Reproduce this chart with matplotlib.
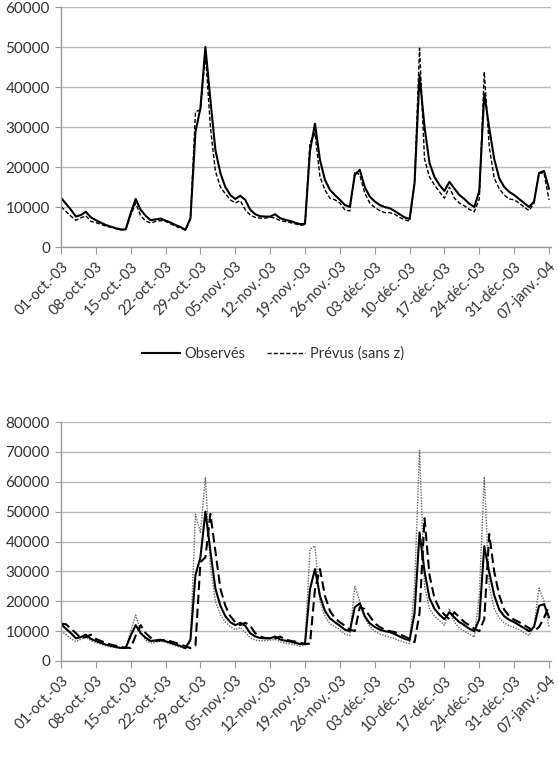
import numpy as np
import pandas as pd
import matplotlib
matplotlib.use("Agg")
import matplotlib.pyplot as plt

plt.rcParams['font.family'] = ['Lato', 'DejaVu Sans']

# daily series, 01-oct-03 .. 07-janv-04
dates = pd.date_range("2003-10-01", "2004-01-07", freq="D")

observes = [
    12300, 10800, 9300, 7600, 8000, 8800, 7400, 6700, 6100, 5500,
    5100, 4700, 4400, 4400, 8500, 12000, 9300, 7800, 6700, 6900,
    7100, 6600, 6100, 5500, 5000, 4300, 7200, 28800, 34700, 50000,
    36800, 24300, 18500, 15000, 13000, 12000, 12800, 11800, 9300, 8200,
    7700, 7600, 7600, 8200, 7200, 6800, 6500, 6100, 5700, 5800,
    24000, 30800, 21800, 16800, 14300, 13000, 11800, 10500, 10000, 18000,
    19300, 15000, 12600, 11400, 10500, 10000, 9700, 9000, 8200, 7400,
    7000, 16000, 43000, 30000, 21000, 17500, 15500, 14000, 16300, 14600,
    13000, 12000, 10800, 10000, 14000, 38400, 29700, 22000, 17200, 15000,
    13800, 13000, 12000, 11000, 10000, 11400, 18500, 19000, 14600,
]

prevus_sans_z = [
    10100, 8900, 7700, 6700, 7300, 7800, 6400, 6100, 5700, 5200,
    4900, 4600, 4300, 4300, 8000, 11000, 7800, 6500, 6000, 6400,
    6600, 6400, 5800, 5200, 4700, 4200, 7000, 33800, 34300, 48500,
    30000, 19000, 15000, 13300, 11800, 11000, 11600, 9300, 8000, 7400,
    7200, 7200, 7500, 7200, 6600, 6400, 6100, 5800, 5400, 5600,
    26000, 28500, 17600, 14300, 12200, 11800, 11000, 9300, 9000, 18900,
    18000, 13500, 11000, 9900, 9100, 8600, 8600, 8200, 7400, 6800,
    6500, 16000, 49700, 22000, 17500, 15500, 13800, 12200, 15000, 12200,
    11000, 10300, 9400, 8800, 12000, 43800, 25000, 17200, 14600, 13000,
    12000, 11800, 11000, 10000, 9100, 11000, 18500, 18500, 11800,
]

# bottom panel: long-dashed forecast
prevus_tirets = [
    12500, 12300, 10800, 9300, 7600, 8000, 8800, 7400, 6700, 6100,
    5500, 5100, 4700, 4400, 4400, 8500, 12000, 9300, 7800, 6700,
    6900, 7100, 6600, 6100, 5500, 5000, 4300, 5200, 33100, 34700,
    49200, 36800, 24300, 18500, 15000, 13000, 12000, 12800, 11800, 9300,
    8200, 7700, 7600, 7600, 8200, 7200, 6800, 6500, 6100, 5700,
    5800, 24000, 30800, 21800, 16800, 14300, 13000, 11800, 10500, 10000,
    18000, 17400, 15000, 12600, 11400, 10500, 10000, 9700, 9000, 8200,
    7400, 6300, 16000, 47800, 28700, 21000, 17500, 15500, 14000, 16300,
    14600, 13000, 12000, 10800, 10000, 14000, 42500, 29900, 22000, 17200,
    15000, 13800, 13000, 12000, 11000, 10000, 11400, 14500, 18200,
]

# bottom panel: dotted forecast
prevus_points = [
    10000, 8800, 7500, 6500, 7300, 8000, 6800, 6200, 5600, 5100,
    4700, 4400, 4200, 4300, 10000, 15400, 10000, 7000, 6000, 6300,
    6600, 6300, 5700, 5100, 4600, 4100, 6500, 49200, 43000, 61500,
    32000, 20000, 15500, 13000, 11500, 10500, 11200, 9500, 7800, 7000,
    6800, 6800, 7000, 7200, 6400, 6000, 5700, 5400, 5000, 5300,
    37500, 38500, 20000, 15000, 12500, 11500, 10500, 9000, 8500, 25000,
    20000, 14500, 11500, 10000, 9000, 8500, 8000, 7500, 6800, 6200,
    5800, 25000, 70500, 25000, 17500, 15000, 13500, 12000, 17500, 13000,
    11000, 10000, 9000, 8000, 22000, 61600, 25000, 17500, 14500, 12800,
    11800, 11200, 10500, 9500, 8500, 12000, 24400, 20000, 11500,
]

tick_labels = ["01-oct.-03", "08-oct.-03", "15-oct.-03", "22-oct.-03", "29-oct.-03",
               "05-nov.-03", "12-nov.-03", "19-nov.-03", "26-nov.-03", "03-déc.-03",
               "10-déc.-03", "17-déc.-03", "24-déc.-03", "31-déc.-03", "07-janv.-04"]

x = np.asarray((dates - dates[0]).days)
ticks = x[::7]

TXT = '#333333'
GRID = '#b8b8b8'
AXC = '#9a9a9a'

W, H = 558, 761
fig = plt.figure(figsize=(W / 100, H / 100), dpi=100)
ax1 = fig.add_axes([61 / W, 1 - 247 / H, 490 / W, 240 / H])
ax2 = fig.add_axes([61 / W, 1 - 661 / H, 490 / W, 239 / H])


def style(ax, ymax):
    ax.set_xlim(0, 98.4)
    ax.set_ylim(0, ymax)
    ax.set_yticks(np.arange(0, ymax + 1, 10000))
    ax.set_xticks(ticks)
    ax.set_xticklabels(tick_labels, rotation=45, ha='right', va='top',
                       rotation_mode='anchor', fontsize=10.5, color=TXT)
    ax.tick_params(axis='y', labelsize=11, labelcolor=TXT, color=AXC, length=4, pad=4)
    ax.tick_params(axis='x', color=AXC, length=5, pad=4)
    ax.grid(axis='y', color=GRID, lw=1)
    ax.set_axisbelow(True)
    for s in ['top', 'right']:
        ax.spines[s].set_visible(False)
    for s in ['left', 'bottom']:
        ax.spines[s].set_color(AXC)
        ax.spines[s].set_linewidth(1)


style(ax1, 60000)
ax1.plot(x, observes, color='black', lw=1.5, label='Observés')
ax1.plot(x, prevus_sans_z, color='black', lw=1.0, dashes=(3, 1.5), label='Prévus (sans z)')

fig.legend(loc='center', bbox_to_anchor=(273 / W, 1 - 354 / H), ncol=2, frameon=False,
           fontsize=10.5, handlelength=2.6, columnspacing=1.5, handletextpad=0.3,
           labelcolor=TXT)

style(ax2, 80000)
ax2.plot(x, prevus_points, color='#666666', lw=1.0, dashes=(1, 1))
ax2.plot(x, prevus_tirets, color='black', lw=1.5, dashes=(4.5, 2.2))
ax2.plot(x, observes, color='black', lw=1.5)

fig.savefig('out.png', dpi=100)
